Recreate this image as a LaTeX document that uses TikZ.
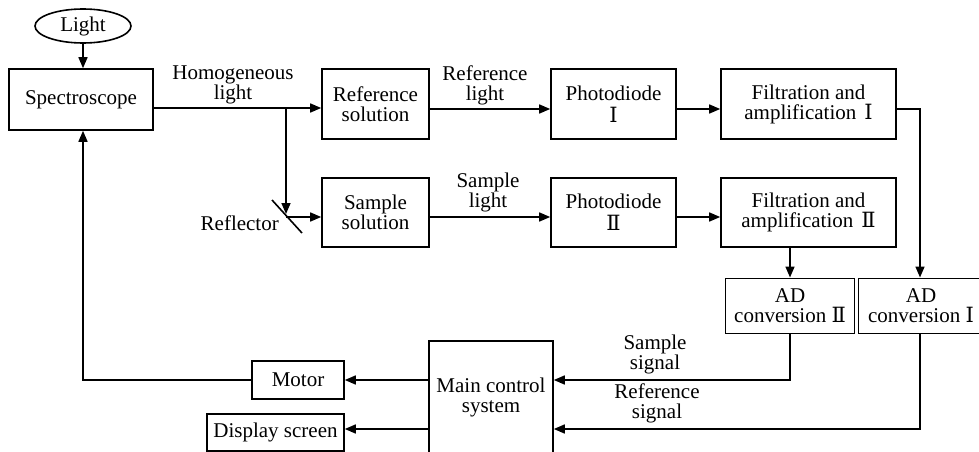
\documentclass[tikz,border=0pt]{standalone}
\usepackage{fontspec}
\setmainfont{Liberation Serif}
\newfontfamily\rmn{DejaVu Serif}
\usetikzlibrary{arrows.meta,calc,shapes.geometric}
\newcommand{\RI}{{\rmn Ⅰ}}
\newcommand{\RII}{{\rmn Ⅱ}}
\begin{document}
\begin{tikzpicture}[x=1pt,y=-1pt,
  every node/.style={font=\fontsize{21}{20}\selectfont, align=center, inner sep=0pt},
  box/.style={draw, line width=1.6pt},
  arr/.style={line width=1.6pt, -{Triangle[length=11pt,width=9pt]}},
  ln/.style={line width=1.6pt}]
\useasboundingbox (0,0) rectangle (979,452);
\clip (0,0) rectangle (979,452);
% nodes
\node[draw, ellipse, line width=1.6pt, minimum width=96pt, minimum height=34pt] (light) at (83,26) {Light};
\node[box, minimum width=144pt, minimum height=61pt] (spec) at (81,99.5) {Spectroscope};
\node[box, minimum width=107pt, minimum height=70pt] (rs) at (375.5,104) {Reference\\solution};
\node[box, minimum width=125pt, minimum height=70pt] (pd1) at (613.5,104) {Photodiode\\[2pt]\RI};
\node[box, minimum width=175pt, minimum height=70pt] (fa1) at (808.5,104) {Filtration and\\amplification\hspace{8pt}\RI};
\node[box, minimum width=107pt, minimum height=69pt] (ss) at (375.5,212.5) {Sample\\solution};
\node[box, minimum width=125pt, minimum height=69pt] (pd2) at (613.5,212.5) {Photodiode\\[2pt]\RII};
\node[box, minimum width=175pt, minimum height=69pt] (fa2) at (808.5,212.5) {Filtration and\\amplification\hspace{8pt}\RII};
\node[draw, line width=1pt, minimum width=129pt, minimum height=55pt] (ad2) at (790,305.5) {AD\\conversion \RII};
\node[draw, line width=1pt, minimum width=126pt, minimum height=55pt] (ad1) at (921,305.5) {AD\\conversion \RI};
\node[box, minimum width=124pt, minimum height=112pt] (mc) at (491,397) {Main control\\system};
\node[box, minimum width=92pt, minimum height=38pt] (motor) at (298,380) {Motor};
\node[box, minimum width=137pt, minimum height=37pt] (ds) at (275.5,432.5) {Display screen};
% labels
\node (lh) at (233,85) {Homogeneous\\light};
\node (lrl) at (485,85) {Reference\\light};
\node (lsl) at (488,192) {Sample\\light};
\node (lss) at (655,354) {Sample\\signal};
\node (lrs) at (657,403) {Reference\\signal};
\node[anchor=east] (lref) at (279,223) {Reflector};
% reflector
\coordinate (branch) at (286,108);
\coordinate (refl) at (286,214);
\coordinate (rA) at (272,200);
\coordinate (rB) at (302,233);
\draw[ln] (rA) -- (rB);
% connectors
\draw[arr] (light) -- (spec.north -| light.south);
\draw[arr] ([yshift=-8.5pt]spec.east) -- ([yshift=-4pt]rs.west);
\draw[arr] (branch) -- (refl);
\draw[arr] (refl |- 0,217) -- ([yshift=-4.5pt]ss.west);
\draw[arr] ([yshift=-5pt]rs.east) -- ([yshift=-5pt]pd1.west);
\draw[arr] ([yshift=-5pt]pd1.east) -- ([yshift=-5pt]fa1.west);
\draw[arr] ([yshift=-4.5pt]ss.east) -- ([yshift=-4.5pt]pd2.west);
\draw[arr] ([yshift=-4.5pt]pd2.east) -- ([yshift=-4.5pt]fa2.west);
\draw[arr] (fa2.south -| ad2.north) -- (ad2.north);
\draw[arr] ([yshift=-5pt]fa1.east) -| ([xshift=-1pt]ad1.north);
\draw[arr] (ad2.south) |- ([yshift=17pt]mc.east);
\draw[arr] ([xshift=-1pt]ad1.south) |- ([yshift=-32pt]mc.east);
\draw[arr] ([yshift=17pt]mc.west) -- (motor.east);
\draw[arr] ([yshift=-32pt]mc.west) -- ([yshift=3.5pt]ds.east);
\draw[arr] (motor.west) -| (spec.south -| light.south);
\end{tikzpicture}
\end{document}
